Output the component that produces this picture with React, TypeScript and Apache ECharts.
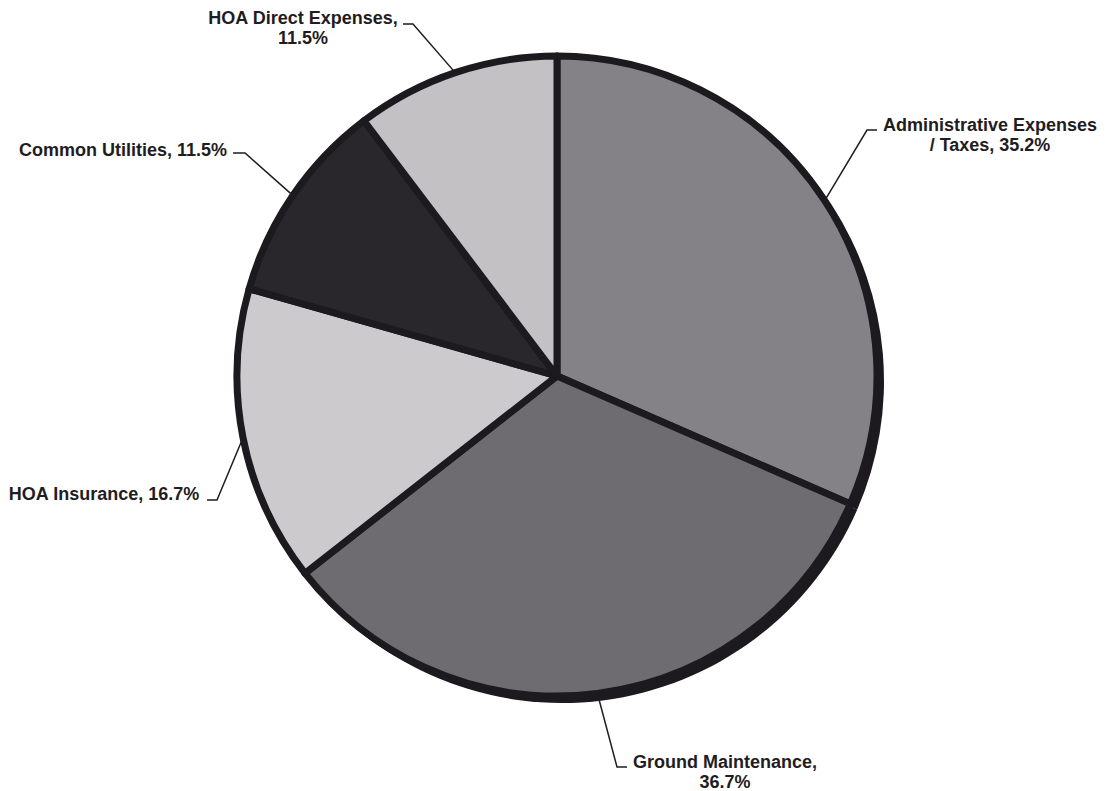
import React, { useEffect, useRef } from "react";
import * as echarts from "echarts";

const categories = [
  "Administrative Expenses / Taxes",
  "Ground Maintenance",
  "HOA Insurance",
  "Common Utilities",
  "HOA Direct Expenses",
];
const values = [35.2, 36.7, 16.7, 11.5, 11.5];
const sliceColors = ["#858287", "#6f6c71", "#cccacd", "#29272b", "#c3c1c4"];
// how each label is broken into lines
const labelWrap = ["slash", "value", "none", "none", "value"];

// label anchor (text centre) and leader elbow / dash end, per slice
const labelAnchors = [
  { x: 990, y: 135, align: "center" },
  { x: 725, y: 772, align: "center" },
  { x: 104, y: 494, align: "center" },
  { x: 123, y: 150, align: "center" },
  { x: 303, y: 28, align: "center" },
];
const leaderPoints = [
  [[867, 130], [877, 130]],
  [[617, 767], [627, 767]],
  [[217, 500], [207, 500]],
  [[245, 153], [233, 153]],
  [[413, 24], [403, 24]],
];

function labelText(i: number): string {
  const name = categories[i];
  const v = values[i].toFixed(1) + "%";
  if (labelWrap[i] === "slash") return name.replace(" / ", "\n/ ") + ", " + v;
  if (labelWrap[i] === "value") return name + ",\n" + v;
  return name + ", " + v;
}

export default function App() {
  const ref = useRef<HTMLDivElement>(null);
  useEffect(() => {
    document.body.style.margin = "0";
    const chart = echarts.init(ref.current!, undefined, { renderer: "svg" });
    chart.setOption({
      animation: false,
      backgroundColor: "#ffffff",
      series: [
        {
          type: "pie",
          silent: true,
          center: [562, 381],
          radius: 322,
          startAngle: 90,
          clockwise: true,
          label: { show: false },
          labelLine: { show: false },
          itemStyle: { color: "#1c1a1e" },
          data: categories.map((c, i) => ({ name: c, value: values[i] })),
          z: 1,
        },
        {
          type: "pie",
          center: [557, 376],
          radius: 320,
          startAngle: 90,
          clockwise: true,
          avoidLabelOverlap: false,
          itemStyle: { borderColor: "#1c1a1e", borderWidth: 7 },
          label: {
            show: true,
            position: "outside",
            formatter: (p: any) => labelText(p.dataIndex),
            fontFamily: "Liberation Sans, Arial, sans-serif",
            fontWeight: "bold",
            fontSize: 18,
            lineHeight: 20,
            color: "#1f1c22",
            align: "center",
          },
          labelLine: {
            show: true,
            length: 20,
            length2: 10,
            lineStyle: { color: "#1f1c22", width: 1.5 },
          },
          labelLayout: (params: any) => {
            const i = params.dataIndex;
            const a = labelAnchors[i];
            const rim = params.labelLinePoints ? params.labelLinePoints[0] : leaderPoints[i][0];
            return {
              x: a.x,
              y: a.y,
              align: a.align,
              verticalAlign: "middle",
              labelLinePoints: [rim, leaderPoints[i][0], leaderPoints[i][1]],
            };
          },
          data: categories.map((c, i) => ({
            name: c,
            value: values[i],
            itemStyle: { color: sliceColors[i] },
          })),
          z: 2,
        },
      ],
    });
    return () => chart.dispose();
  }, []);
  return <div ref={ref} style={{ width: 1105, height: 791 }} />;
}
